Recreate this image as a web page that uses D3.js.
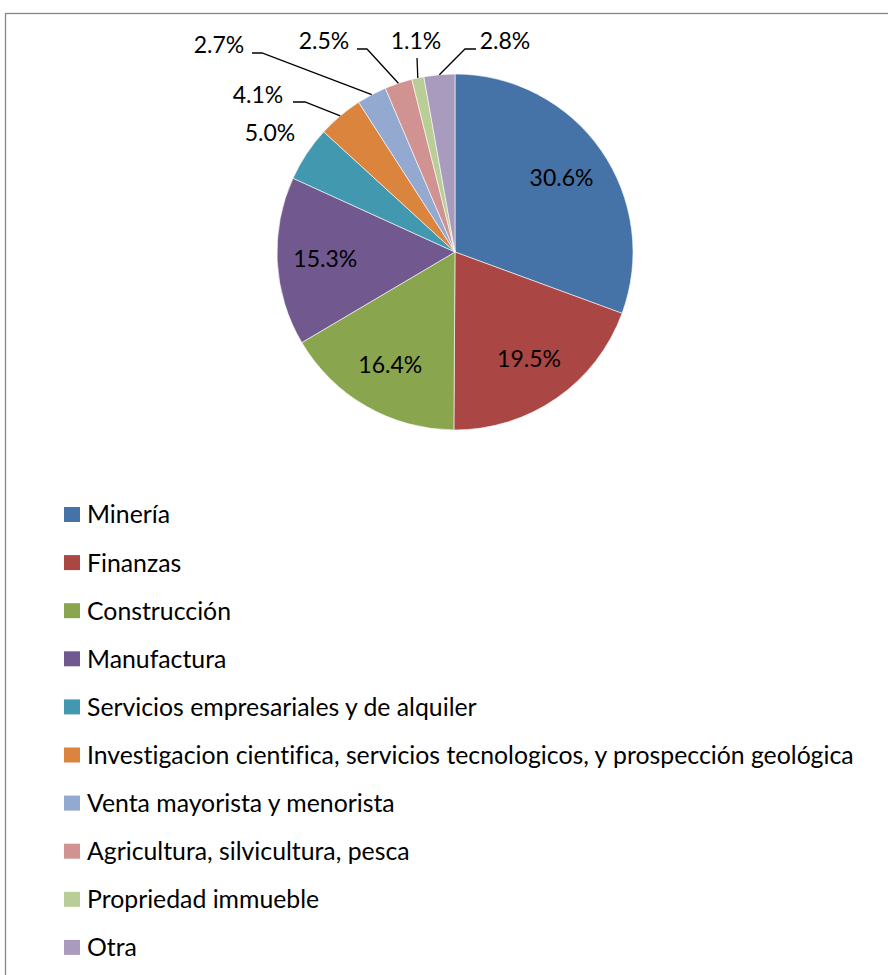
<!DOCTYPE html>
<html>
<head>
<meta charset="utf-8">
<script src="https://cdn.jsdelivr.net/npm/d3@7"></script>
<style>
  body { margin: 0; background: #fff; }
  svg { display: block; font-family: Lato, "Open Sans", sans-serif; font-variant-ligatures: none; }
</style>
</head>
<body>
<svg id="pie_svg" width="888" height="975"></svg>
<script>
// sectors, clockwise from 12 o'clock
const categories = [
    "Minería",
    "Finanzas",
    "Construcción",
    "Manufactura",
    "Servicios empresariales y de alquiler",
    "Investigacion cientifica, servicios tecnologicos, y prospección geológica",
    "Venta mayorista y menorista",
    "Agricultura, silvicultura, pesca",
    "Propriedad immueble",
    "Otra"
];
const shares = [30.6, 19.5, 16.4, 15.3, 5.0, 4.1, 2.7, 2.5, 1.1, 2.8];
const labels = ["30.6%", "19.5%", "16.4%", "15.3%", "5.0%", "4.1%", "2.7%", "2.5%", "1.1%", "2.8%"];
const colors = ["#4572A7", "#AA4643", "#89A54E", "#71588F", "#4198AF",
                "#DB843D", "#93A9CF", "#D19392", "#B9CD96", "#A99BBD"];

document.addEventListener('DOMContentLoaded', function () {
    const svg = d3.select("#pie_svg");
    const cx = 455, cy = 252, radius = 178;

    // chart area frame (only top and left edges show in the picture)
    svg.append("rect")
        .attr("x", 5.5).attr("y", 13.5)
        .attr("width", 900).attr("height", 1000)
        .attr("fill", "none")
        .attr("stroke", "#868686")
        .attr("stroke-width", 1.3);

    const pie = d3.pie().sort(null).value(d => d);
    const arcs = pie(shares);
    const arc = d3.arc().innerRadius(0).outerRadius(radius);
    const labelArc = d3.arc().innerRadius(radius * 0.46).outerRadius(radius);

    const g = svg.append("g").attr("transform", `translate(${cx},${cy})`);

    g.selectAll(".slice")
        .data(arcs)
        .enter()
        .append("path")
        .attr("class", "slice")
        .attr("d", arc)
        .attr("fill", (d, i) => colors[i])
        .attr("stroke", "#fff")
        .attr("stroke-width", 0.6);

    // labels inside the big slices
    g.selectAll(".inlabel")
        .data(arcs.slice(0, 4))
        .enter()
        .append("text")
        .attr("class", "inlabel")
        .attr("x", d => labelArc.centroid(d)[0])
        .attr("y", d => labelArc.centroid(d)[1])
        .attr("dy", "0.36em")
        .attr("text-anchor", "middle")
        .style("font-size", "23px")
        .text((d, i) => labels[i]);

    // outside labels: text centre and leader elbow, relative to pie centre
    const outside = {
        4: { text: [-185, -119] },
        5: { text: [-197, -157], elbow: [-150, -150], end: -162 },
        6: { text: [-236, -207], elbow: [-193, -199], end: -203 },
        7: { text: [-131, -211], elbow: [-88, -203], end: -98 },
        8: { text: [-39, -211], elbow: [-38, -194] },
        9: { text: [50, -211], elbow: [10, -203], end: 21 }
    };

    arcs.forEach((d, i) => {
        const o = outside[i];
        if (!o) return;
        if (o.elbow) {
            const mid = (d.startAngle + d.endAngle) / 2;
            const px = radius * Math.sin(mid), py = -radius * Math.cos(mid);
            const pts = [[px, py], o.elbow];
            if (o.end !== undefined) pts.push([o.end, o.elbow[1]]);
            g.append("path")
                .attr("d", d3.line()(pts))
                .attr("fill", "none")
                .attr("stroke", "#000")
                .attr("stroke-width", 1.3);
        }
        g.append("text")
            .attr("x", o.text[0])
            .attr("y", o.text[1])
            .attr("dy", "0.36em")
            .attr("text-anchor", "middle")
            .style("font-size", "23px")
            .text(labels[i]);
    });

    // legend
    const legend = svg.append("g").attr("transform", "translate(64,514.5)");
    const rows = legend.selectAll(".row")
        .data(categories)
        .enter()
        .append("g")
        .attr("class", "row")
        .attr("transform", (d, i) => `translate(0,${i * 48.1})`);
    rows.append("rect")
        .attr("x", 0).attr("y", -7.5)
        .attr("width", 16).attr("height", 15)
        .attr("fill", (d, i) => colors[i]);
    rows.append("text")
        .attr("x", 23)
        .attr("y", 0)
        .attr("dy", "0.36em")
        .style("font-size", "24.8px")
        .text(d => d);
});
</script>
</body>
</html>
